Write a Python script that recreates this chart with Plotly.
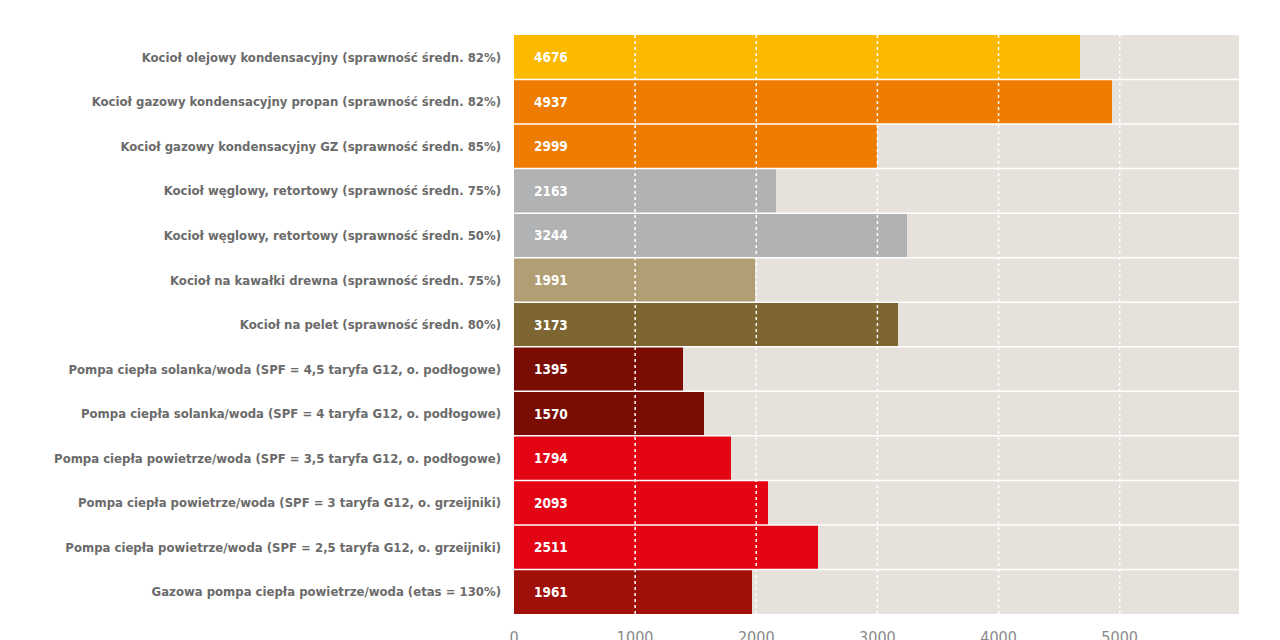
import plotly.graph_objects as go

categories = [
    "Kocioł olejowy kondensacyjny (sprawność średn. 82%)",
    "Kocioł gazowy kondensacyjny propan (sprawność średn. 82%)",
    "Kocioł gazowy kondensacyjny GZ (sprawność średn. 85%)",
    "Kocioł węglowy, retortowy (sprawność średn. 75%)",
    "Kocioł węglowy, retortowy (sprawność średn. 50%)",
    "Kocioł na kawałki drewna (sprawność średn. 75%)",
    "Kocioł na pelet (sprawność średn. 80%)",
    "Pompa ciepła solanka/woda (SPF = 4,5 taryfa G12, o. podłogowe)",
    "Pompa ciepła solanka/woda (SPF = 4 taryfa G12, o. podłogowe)",
    "Pompa ciepła powietrze/woda (SPF = 3,5 taryfa G12, o. podłogowe)",
    "Pompa ciepła powietrze/woda (SPF = 3 taryfa G12, o. grzeijniki)",
    "Pompa ciepła powietrze/woda (SPF = 2,5 taryfa G12, o. grzeijniki)",
    "Gazowa pompa ciepła powietrze/woda (etas = 130%)",
]
values = [4676, 4937, 2999, 2163, 3244, 1991, 3173, 1395, 1570, 1794, 2093, 2511, 1961]
colors = ["#FBB900", "#EE7C00", "#EE7C00", "#B1B2B3", "#B1B2B3", "#B19E74", "#7D6631",
          "#7A0C04", "#7A0C04", "#E30513", "#E30513", "#E30513", "#A00F08"]
tick_vals = [0, 1000, 2000, 3000, 4000, 5000]
x_max = 5985

FONT = "Liberation Sans Narrow, DejaVu Sans Condensed, Arial Narrow, sans-serif"

fig = go.Figure()
fig.add_trace(go.Bar(
    y=categories, x=values, orientation="h",
    marker=dict(color=colors, line=dict(width=0)),
    hoverinfo="x+y",
))

annotations = []
for c, v in zip(categories, values):
    annotations.append(dict(
        x=0, y=c, xref="x", yref="y", text=f"<b>{v}</b>", showarrow=False,
        xanchor="left", yanchor="middle", xshift=18,
        font=dict(family=FONT, size=13.5, color="white"),
    ))

shapes = []
for t in tick_vals[1:]:
    shapes.append(dict(type="line", xref="x", yref="paper", x0=t, x1=t, y0=0, y1=1,
                       line=dict(color="white", width=1.5, dash="dot"), layer="above"))
for i in range(len(categories) - 1):
    shapes.append(dict(type="line", xref="paper", yref="y", x0=0, x1=1, y0=i + 0.5, y1=i + 0.5,
                       line=dict(color="white", width=1.5), layer="above"))

fig.update_layout(
    width=1280, height=640,
    margin=dict(l=514, r=41, t=35, b=26),
    paper_bgcolor="white", plot_bgcolor="#E6E2DB",
    bargap=0, showlegend=False,
    shapes=shapes, annotations=annotations,
    xaxis=dict(range=[0, x_max], tickvals=tick_vals, showgrid=False, zeroline=False,
               showline=False, ticks="", ticklabelstandoff=12, automargin=False,
               tickfont=dict(family=FONT, size=16, color="#8a8a8a")),
    yaxis=dict(categoryorder="array", categoryarray=categories, range=[12.5, -0.5],
               showgrid=False, zeroline=False, showline=False, ticks="",
               ticklabelstandoff=12, automargin=False,
               tickfont=dict(family=FONT, size=13, color="#6b6b6b", weight="bold")),
)

fig.write_html("out.html")
